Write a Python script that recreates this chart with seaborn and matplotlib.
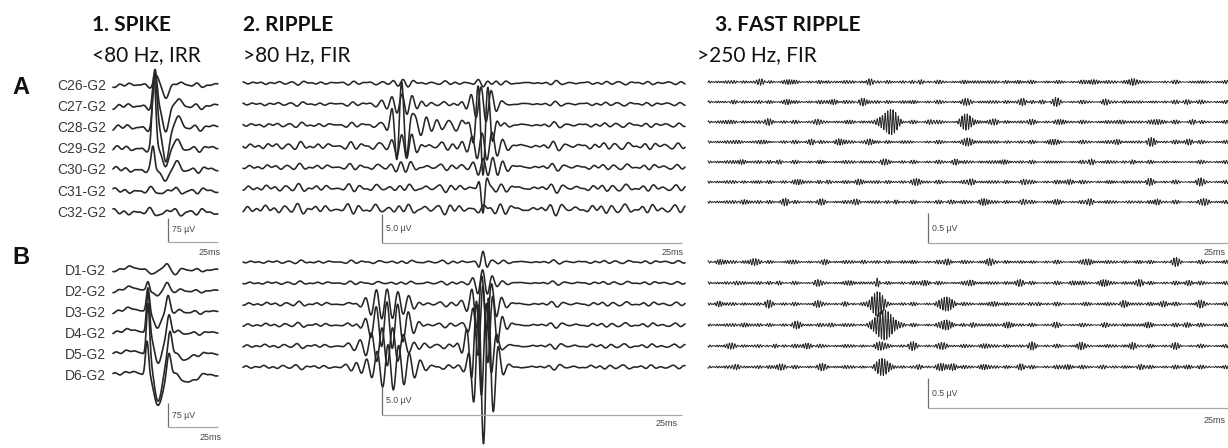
import numpy as np
import pandas as pd
import matplotlib
matplotlib.use("Agg")
import matplotlib.pyplot as plt
import seaborn as sns

sns.set_theme(style="white")
plt.rcParams["font.family"] = ["Liberation Sans", "DejaVu Sans"]

W, H, DPI = 1228, 448, 100
INK = "#262626"

# ---------------------------------------------------------------- labels
chan_a = ["C26-G2", "C27-G2", "C28-G2", "C29-G2", "C30-G2", "C31-G2", "C32-G2"]
chan_b = ["D1-G2", "D2-G2", "D3-G2", "D4-G2", "D5-G2", "D6-G2"]
col_titles = ["1. SPIKE", "2. RIPPLE", "3. FAST RIPPLE"]
col_bands = ["<80 Hz, IRR", ">80 Hz, FIR", ">250 Hz, FIR"]
row_tags = ["A", "B"]

# scale bars (µV, ms)
spike_bar_uv = 75
ripple_bar_uv = 5.0
fr_bar_uv = 0.5
bar_ms = 25

# ---------------------------------------------------------------- spike (<80 Hz)
# transient deflections per channel: (time ms, amplitude µV, width ms)
spike_a_events = [
    [(21.5, 25, 1.2), (26.3, -40, 1.5), (31.0, 10, 1.5)],
    [(21.0, 105, 1.0), (26.3, -75, 1.6), (31.5, 20, 1.8)],
    [(21.0, 155, 1.0), (26.5, -100, 1.6), (32.0, 25, 2.0)],
    [(20.5, 215, 0.9), (26.5, -50, 1.6), (31.0, 20, 2.0)],
    [(20.0, 60, 0.8), (26.5, -30, 1.5), (32.0, 15, 2.0)],
    [],
    [],
]
spike_a_bg = [7, 9, 10, 10, 10, 9, 10]
spike_b_events = [
    [(9, 9, 3), (21.0, -12, 1.5), (27.0, 22, 1.2), (31.0, -9, 1.5)],
    [(9, 12, 3), (17.5, 35, 0.8), (22.0, -20, 1.5), (27.0, 30, 1.2)],
    [(9, 12, 3), (17.5, 85, 0.8), (22.0, -55, 1.8), (27.5, 55, 1.0)],
    [(9, 12, 3), (17.5, 140, 0.8), (22.5, -95, 2.0), (28.0, 60, 1.0)],
    [(9, 12, 3), (17.5, 170, 0.8), (22.5, -145, 2.2), (28.5, 75, 1.0), (36, -15, 3)],
    [(9, 12, 3), (17.0, 110, 0.8), (22.5, -90, 2.2), (28.0, 70, 1.0), (38, -22, 3)],
]
spike_b_bg = [5, 5, 6, 6, 6, 6]
spike_bg_periods = [6.5, 9.5, 14.0, 4.3]

# ---------------------------------------------------------------- ripple (>80 Hz)
# oscillatory bursts: (channel, centre ms, amplitude µV, width ms, period ms, phase)
ripple_a_bursts = [
    (0, 13.3, 0.5, 0.8, 0.85, 0.0),
    (1, 13.3, 1.6, 1.1, 0.85, 0.5),
    (2, 13.2, 6.9, 0.55, 0.85, 0.0),
    (2, 14.5, 2.0, 1.2, 0.95, 1.0),
    (3, 13.5, 1.7, 0.9, 0.85, 2.0),
    (4, 13.3, 0.6, 0.8, 0.85, 1.0),
    (2, 17.2, 1.0, 1.3, 1.15, 0.3),
    (0, 20.0, 0.6, 0.6, 0.85, 3.14),
    (1, 20.0, 3.0, 0.9, 0.85, 1.2),
    (2, 20.0, 8.3, 0.6, 0.85, 3.14),
    (3, 20.0, 2.6, 0.9, 0.85, 0.6),
    (4, 20.3, 1.7, 0.9, 0.85, 2.2),
    (5, 20.0, 4.3, 0.25, 0.85, 3.14),
    (6, 20.0, 0.4, 0.6, 0.85, 0.0),
]
ripple_a_bg = [0.24, 0.26, 0.32, 0.5, 0.4, 0.5, 0.65]
ripple_b_bursts = [
    (2, 12.0, 2.6, 1.4, 0.9, 0.0),
    (3, 12.2, 4.0, 1.3, 0.9, 1.5),
    (4, 12.0, 3.5, 1.4, 0.9, 3.0),
    (5, 12.4, 3.8, 1.5, 0.9, 2.2),
    (0, 20.0, 2.0, 0.3, 0.85, 0.0),
    (1, 20.0, 2.4, 0.6, 0.85, 0.3),
    (2, 20.0, 5.0, 0.8, 0.85, 0.8),
    (3, 20.2, 6.9, 0.8, 0.85, 1.6),
    (4, 19.8, 8.6, 0.8, 0.85, 2.6),
    (5, 20.1, 13.5, 0.7, 0.85, 3.6),
]
ripple_b_bg = [0.22, 0.22, 0.3, 0.3, 0.3, 0.3]
ripple_bg_periods = [0.85, 1.05, 1.3, 0.7, 2.3]

# ---------------------------------------------------------------- fast ripple (>250 Hz)
fr_a_bursts = [
    (2, 15.2, 0.23, 0.55, 0.22, 0.0),
    (2, 21.6, 0.12, 0.45, 0.22, 0.0),
    (3, 13.5, 0.07, 0.35, 0.22, 0.0),
    (3, 21.8, 0.06, 0.35, 0.22, 0.0),
]
fr_b_bursts = [
    (2, 14.1, 0.20, 0.5, 0.22, 0.0),
    (2, 19.9, 0.12, 0.4, 0.22, 0.0),
    (3, 14.6, 0.24, 0.7, 0.22, 1.0),
    (3, 19.9, 0.08, 0.35, 0.22, 0.0),
    (4, 14.3, 0.07, 0.45, 0.22, 0.0),
    (5, 14.5, 0.14, 0.5, 0.22, 0.0),
    (5, 19.6, 0.05, 0.35, 0.22, 0.0),
    (1, 14.1, 0.06, 0.12, 0.22, 0.0),
]
# short low-amplitude bursts in the background (ms)
fr_a_blips = [
    [4.5, 6.8, 9.9, 13.5, 17.7, 22.0, 26.0, 29.1, 32.0, 35.4, 36.8, 41.0],
    [2.0, 6.8, 10.4, 12.9, 17.0, 21.6, 26.3, 27.9, 29.0, 33.0, 37.0, 40.0],
    [1.5, 5.0, 9.0, 11.5, 18.5, 23.9, 27.0, 29.6, 34.6, 37.5, 40.5],
    [2.8, 4.9, 8.7, 11.0, 17.0, 25.0, 28.5, 34.3, 37.0, 40.0],
    [2.7, 6.0, 9.6, 14.5, 20.7, 24.5, 29.0, 32.0, 35.4, 39.0],
    [3.8, 7.7, 10.0, 12.4, 17.5, 22.0, 26.3, 30.0, 33.5, 36.8, 41.0],
    [3.0, 6.5, 9.6, 12.5, 15.7, 20.2, 23.0, 26.3, 29.0, 31.8, 35.0, 37.4, 41.5],
]
fr_b_blips = [
    [1.0, 3.8, 6.5, 9.6, 13.0, 17.0, 20.0, 23.5, 27.0, 31.8, 35.7, 39.0],
    [2.4, 6.0, 9.0, 12.0, 18.0, 22.0, 26.0, 30.4, 33.0, 36.0, 40.0],
    [1.0, 5.0, 9.0, 11.5, 24.0, 27.5, 31.3, 34.6, 38.0, 41.0],
    [3.0, 7.5, 10.4, 22.0, 25.0, 29.0, 33.0, 36.5, 40.0],
    [2.0, 5.5, 8.2, 17.0, 19.6, 22.9, 27.0, 31.0, 35.4, 39.0],
    [2.5, 6.0, 9.6, 17.5, 20.4, 22.9, 26.0, 30.0, 33.0, 36.0, 40.0],
]
fr_blip_uv = 0.05
fr_bg_uv = 0.02
fr_bg_periods = [0.21, 0.235, 0.26, 0.19]


# ---------------------------------------------------------------- signal helpers
def texture(t, periods, idx, salt):
    out = np.zeros_like(t)
    for k, p in enumerate(periods):
        ph = 2 * np.pi * ((0.6180339887 * (idx * 5 + k * 3 + salt)) % 1.0)
        w = 1.0 if k < 3 else 0.6
        out += w * np.cos(2 * np.pi * t / p + ph)
    return out / np.sqrt(len(periods))


def spike_traces(t, events, bg):
    out = []
    for i, (ev, a) in enumerate(zip(events, bg)):
        y = a * texture(t, spike_bg_periods, i, 1)
        for tc, amp, w in ev:
            y = y + amp * np.exp(-0.5 * ((t - tc) / w) ** 2)
        out.append(y)
    return out


def burst_traces(t, n, bursts, bg, periods, salt):
    out = [a * texture(t, periods, i, salt) for i, a in enumerate(bg)]
    for ch, tc, amp, w, per, ph in bursts:
        out[ch] = out[ch] + amp * np.exp(-0.5 * ((t - tc) / w) ** 2) * np.cos(
            2 * np.pi * (t - tc) / per + ph)
    return out


def fr_traces(t, n, bursts, blips, salt):
    out = []
    for i in range(n):
        y = fr_bg_uv * texture(t, fr_bg_periods, i, salt)
        for j, tb in enumerate(blips[i]):
            a = fr_blip_uv * (0.7 + 0.3 * ((j * 0.618) % 1.0))
            y = y + a * np.exp(-0.5 * ((t - tb) / 0.3) ** 2) * np.cos(
                2 * np.pi * (t - tb) / 0.22 + j)
        out.append(y)
    for ch, tc, amp, w, per, ph in bursts:
        out[ch] = out[ch] + amp * np.exp(-0.5 * ((t - tc) / w) ** 2) * np.cos(
            2 * np.pi * (t - tc) / per + ph)
    return out


# ---------------------------------------------------------------- figure
fig = plt.figure(figsize=(W / DPI, H / DPI), dpi=DPI)
fig.patch.set_facecolor("white")


def panel_axes(x0, sx, y0, sy):
    """Transparent axes spanning the figure: time in ms, voltage in µV."""
    ax = fig.add_axes([0, 0, 1, 1])
    ax.set_xlim(-x0 / sx, (W - x0) / sx)
    ax.set_ylim((y0 - H) / sy, y0 / sy)
    ax.set_axis_off()
    return ax


def draw_traces(ax, t, traces, offset, lw):
    df = pd.concat(
        [pd.DataFrame({"t": t, "v": y - k * offset, "ch": k}) for k, y in enumerate(traces)],
        ignore_index=True)
    sns.lineplot(data=df, x="t", y="v", units="ch", estimator=None, sort=False,
                 color=INK, lw=lw, ax=ax, legend=False)


def scale_bar(ax, x0, sx, y0, sy, corner, uv, ms, uv_txt, ms_pos):
    cx, cy = corner
    t0 = (cx - x0) / sx
    v0 = (y0 - cy) / sy
    ax.plot([t0, t0], [v0, v0 + uv], color="#6e6e6e", lw=0.9, solid_capstyle="butt")
    ax.plot([t0, t0 + ms], [v0, v0], color="#a8a8a8", lw=0.9, solid_capstyle="butt")
    fig.text((cx + 4) / W, 1 - (cy - uv * sy * 0.5) / H, uv_txt, fontsize=6.3,
             color="#444444", va="center", ha="left")
    fig.text(ms_pos[0] / W, 1 - ms_pos[1] / H, f"{ms}ms", fontsize=6.5,
             color="#444444", va="center", ha="right")


# spike column: 2 px per ms, 24 px per 75 µV
sp_sx, sp_sy = 2.0, 24 / 75
t_sp = np.arange(0, 52.5, 0.1)
axA = panel_axes(113, sp_sx, 85, sp_sy)
draw_traces(axA, t_sp, spike_traces(t_sp, spike_a_events, spike_a_bg), 21.2 / sp_sy, 1.2)
scale_bar(axA, 113, sp_sx, 85, sp_sy, (168, 242), spike_bar_uv, bar_ms, "75 µV", (221, 252))
axB = panel_axes(113, sp_sx, 270, sp_sy)
draw_traces(axB, t_sp, spike_traces(t_sp, spike_b_events, spike_b_bg), 21.0 / sp_sy, 1.2)
scale_bar(axB, 113, sp_sx, 270, sp_sy, (168, 427), spike_bar_uv, bar_ms, "75 µV", (222, 437))

# ripple column: 12 px per ms, 29 px per 5 µV
rp_sx, rp_sy = 12.0, 29 / 5.0
t_rp = np.arange(0, 36.85, 0.02)
axA = panel_axes(243, rp_sx, 83, rp_sy)
draw_traces(axA, t_rp, burst_traces(t_rp, 7, ripple_a_bursts, ripple_a_bg, ripple_bg_periods, 2),
            21.0 / rp_sy, 1.15)
scale_bar(axA, 243, rp_sx, 83, rp_sy, (382, 243), ripple_bar_uv, bar_ms, "5.0 µV", (684, 252))
axB = panel_axes(243, rp_sx, 262, rp_sy)
draw_traces(axB, t_rp, burst_traces(t_rp, 6, ripple_b_bursts, ripple_b_bg, ripple_bg_periods, 4),
            21.0 / rp_sy, 1.15)
scale_bar(axB, 243, rp_sx, 262, rp_sy, (382, 415), ripple_bar_uv, bar_ms, "5.0 µV", (678, 423))

# fast ripple column: 12 px per ms, 30 px per 0.5 µV
fr_sx, fr_sy = 12.0, 30 / 0.5
t_fr = np.arange(0, 43.5, 0.01)
axA = panel_axes(708, fr_sx, 82, fr_sy)
draw_traces(axA, t_fr, fr_traces(t_fr, 7, fr_a_bursts, fr_a_blips, 3), 20.0 / fr_sy, 0.7)
scale_bar(axA, 708, fr_sx, 82, fr_sy, (928, 243), fr_bar_uv, bar_ms, "0.5 µV", (1226, 252))
axB = panel_axes(708, fr_sx, 262, fr_sy)
draw_traces(axB, t_fr, fr_traces(t_fr, 6, fr_b_bursts, fr_b_blips, 5), 21.0 / fr_sy, 0.7)
scale_bar(axB, 708, fr_sx, 262, fr_sy, (928, 408), fr_bar_uv, bar_ms, "0.5 µV", (1226, 420))

# ---------------------------------------------------------------- text
title_x = [92, 243, 715]
band_x = [92, 243, 697]
for tx, bx, ttl, band in zip(title_x, band_x, col_titles, col_bands):
    fig.text(tx / W, 1 - 25 / H, ttl, family=["Lato", "DejaVu Sans"], fontweight="bold",
             fontsize=15, color="#111111", va="center", ha="left")
    fig.text(bx / W, 1 - 55 / H, band, family=["Lato", "DejaVu Sans"], fontsize=15,
             color="#111111", va="center", ha="left")

for tag, ty in zip(row_tags, [88, 258]):
    fig.text(12 / W, 1 - ty / H, tag, fontweight="bold", fontsize=17, color="#111111",
             va="center", ha="left")

for k, name in enumerate(chan_a):
    fig.text(106 / W, 1 - (86 + 21.1 * k) / H, name, fontsize=10, color="#3a3a3a",
             va="center", ha="right")
for k, name in enumerate(chan_b):
    fig.text(106 / W, 1 - (271 + 21.0 * k) / H, name, fontsize=10, color="#3a3a3a",
             va="center", ha="right")

fig.savefig("out.png", dpi=DPI, facecolor="white")
